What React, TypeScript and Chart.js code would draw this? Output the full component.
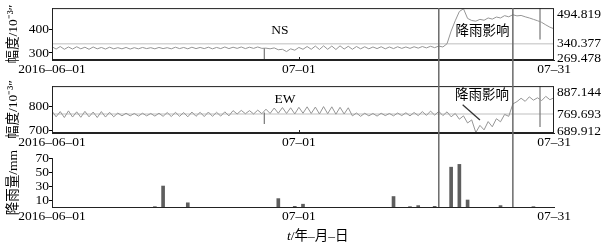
import React, { useEffect, useRef } from 'react';
import { Chart, registerables } from 'chart.js';

Chart.register(...registerables);

// ---------- data ----------
const X_TICK_DAYS = [0, 30, 61];
const X_TICK_LABELS = ['2016–06–01', '07–01', '07–31'];
const X_MAX_DAY = 61;
const SAMPLE_STEP_DAYS = 0.5;

// NS tilt amplitude, one value every 12 h from 2016-06-01
const NS_VALUES = [
  327, 317, 328, 316, 326, 317, 327, 318, 325, 316, 326, 318, 324, 317, 325, 318,
  323, 318, 324, 317, 323, 318, 324, 319, 323, 318, 324, 319, 323, 318, 325, 319,
  324, 318, 325, 319, 324, 319, 325, 318, 324, 319, 326, 319, 325, 320, 326, 319,
  325, 320, 326, 320, 321, 318, 322, 314, 316, 306, 318, 312, 324, 316, 328, 316,
  330, 315, 331, 316, 330, 315, 331, 317, 329, 316, 328, 318, 327, 318, 326, 319,
  327, 318, 326, 319, 327, 320, 326, 320, 327, 321, 328, 322, 329, 323, 330, 326,
  340, 395, 440, 480, 492, 450, 441, 438, 446, 442, 452, 447, 456, 452, 462, 457,
  466, 461, 463, 457, 452, 446, 440, 433, 422, 412, 405,
];

// EW tilt amplitude, one value every 12 h from 2016-06-01
const EW_VALUES = [
  782, 758, 780, 755, 783, 757, 779, 756, 781, 758, 778, 755, 780, 757, 777, 758,
  774, 762, 773, 762, 772, 761, 773, 762, 772, 761, 773, 760, 776, 759, 777, 760,
  776, 758, 778, 760, 777, 759, 778, 760, 777, 761, 779, 762, 784, 770, 785, 771,
  784, 770, 786, 771, 790, 772, 795, 773, 797, 772, 796, 770, 798, 773, 800, 772,
  799, 770, 801, 771, 800, 769, 798, 770, 796, 762, 774, 760, 773, 762, 772, 761,
  773, 763, 772, 762, 774, 763, 775, 762, 776, 763, 780, 764, 782, 765, 781, 763,
  779, 758, 772, 748, 762, 732, 745, 692, 722, 703, 738, 716, 750, 737, 768, 760,
  812, 822, 836, 823, 842, 828, 838, 826, 844, 830, 838,
];

// single-sample spikes (offset records)
const SPIKE_DAYS = [25.8, 59.3];
const NS_SPIKE_LOW = [272, 358];
const NS_SPIKE_HIGH = [322, 494.819];
const EW_SPIKE_LOW = [728, 715];
const EW_SPIKE_HIGH = [776, 887.144];

// min, mean, max
const NS_STATS = [269.478, 340.377, 494.819];
const EW_STATS = [689.912, 769.693, 887.144];
const NS_TICKS = [300, 400];
const EW_TICKS = [700, 800];

// daily rainfall (bar centre day, mm)
const RAIN_DAYS = [12.5, 13.5, 16.5, 27.5, 29.5, 30.5, 41.5, 43.5, 44.5, 46.5, 48.5, 49.5, 50.5, 54.5, 58.5];
const RAIN_MM = [0.5, 30, 6, 12, 1, 4, 15, 0.5, 2, 1, 57, 61, 10, 2, 0.5];
const RAIN_TICKS = [10, 30, 50, 70];
const RAIN_MAX = 70;

// rain-affected window (days)
const RAIN_WINDOW = [47, 56];

const NS_NAME = 'NS';
const EW_NAME = 'EW';
const RAIN_NOTE = '降雨影响';
const Y_TITLE_TILT = '幅度/10⁻³″';
const Y_TITLE_RAIN = '降雨量/mm';

// ---------- style ----------
const FONT = "'Liberation Serif', 'Noto Sans CJK SC', serif";
const FS = 13.5;
const W = 613;
const LINE_COLOR = '#959595';
const MEAN_COLOR = '#d4d4d4';
const WIN_COLOR = '#6a6a6a';

const series = (vals: number[]) => vals.map((v, i) => ({ x: i * SAMPLE_STEP_DAYS, y: v }));

const lineDs = (data: any[], color = LINE_COLOR, width = 1) => ({
  data,
  borderColor: color,
  borderWidth: width,
  pointRadius: 0,
  tension: 0,
  fill: false,
});

const spikeDatasets = (lows: number[], highs: number[]) =>
  SPIKE_DAYS.map((d, i) => lineDs([{ x: d, y: lows[i] }, { x: d, y: highs[i] }], '#777', 1.2));

const xScale = (h: number) => ({
  type: 'linear',
  min: 0,
  max: X_MAX_DAY,
  afterBuildTicks: (s: any) => {
    s.ticks = X_TICK_DAYS.map((v) => ({ value: v }));
  },
  afterFit: (s: any) => {
    s.height = h;
  },
  ticks: {
    autoSkip: false,
    maxRotation: 0,
    minRotation: 0,
    padding: 1,
    color: '#000',
    font: { family: FONT, size: FS },
    callback: (_v: any, i: number) => X_TICK_LABELS[i],
  },
  grid: { display: true, drawOnChartArea: false, drawTicks: false, color: '#000' },
  border: { display: true, color: '#222', width: 1 },
});

const yScale = (min: number, max: number, ticks: number[], title: string) => ({
  type: 'linear',
  position: 'left',
  min,
  max,
  afterBuildTicks: (s: any) => {
    s.ticks = ticks.map((v) => ({ value: v }));
  },
  afterFit: (s: any) => {
    s.width = 52;
  },
  ticks: {
    autoSkip: false,
    padding: 0,
    color: '#000',
    font: { family: FONT, size: FS },
    callback: (v: any) => String(Math.round(Number(v))),
  },
  grid: { display: true, drawOnChartArea: false, drawTicks: true, tickLength: 3, color: '#000' },
  border: { display: true, color: '#222', width: 1 },
  title: {
    display: true,
    text: title,
    color: '#000',
    font: { family: FONT, size: 13.5 },
    padding: { top: 5, bottom: 0 },
  },
});

const boxPlugin = {
  id: 'box',
  afterDatasetsDraw(chart: any) {
    const { ctx, chartArea: a } = chart;
    ctx.save();
    ctx.strokeStyle = '#222';
    ctx.lineWidth = 1;
    ctx.strokeRect(a.left + 0.5, a.top + 0.5, a.right - a.left - 1, a.bottom - a.top - 1);
    const x = chart.scales.x;
    X_TICK_DAYS.slice(1, 2).forEach((d) => {
      const px = Math.round(x.getPixelForValue(d)) + 0.5;
      ctx.beginPath();
      ctx.moveTo(px, a.bottom);
      ctx.lineTo(px, a.bottom - 3);
      ctx.stroke();
    });
    ctx.restore();
  },
};

const windowPlugin = (fromTop: boolean, toBottom: boolean) => ({
  id: 'rainWindow',
  afterDraw(chart: any) {
    const { ctx, chartArea: a, height } = chart;
    const x = chart.scales.x;
    const y0 = fromTop ? a.top : 0;
    const y1 = toBottom ? a.bottom : height;
    ctx.save();
    ctx.strokeStyle = WIN_COLOR;
    ctx.lineWidth = 1.5;
    RAIN_WINDOW.forEach((d) => {
      const px = x.getPixelForValue(d);
      ctx.beginPath();
      ctx.moveTo(px, y0);
      ctx.lineTo(px, y1);
      ctx.stroke();
    });
    ctx.restore();
  },
});

const rightLabels = (stats: number[]) => ({
  id: 'rightLabels',
  afterDraw(chart: any) {
    const { ctx, chartArea: a } = chart;
    const y = chart.scales.y;
    ctx.save();
    ctx.fillStyle = '#000';
    ctx.font = `${FS}px ${FONT}`;
    ctx.textAlign = 'left';
    ctx.textBaseline = 'middle';
    stats.forEach((v) => {
      let py = y.getPixelForValue(v);
      py = Math.min(Math.max(py, a.top + 6), a.bottom - 2);
      ctx.fillText(v.toFixed(3), a.right + 3, py);
    });
    ctx.restore();
  },
});

type Note = { text: string; day: number; value: number; line?: number[] };
const notesPlugin = (notes: Note[]) => ({
  id: 'notes',
  afterDraw(chart: any) {
    const { ctx } = chart;
    const x = chart.scales.x;
    const y = chart.scales.y;
    ctx.save();
    ctx.fillStyle = '#000';
    ctx.strokeStyle = '#333';
    ctx.lineWidth = 1.3;
    ctx.textAlign = 'center';
    ctx.textBaseline = 'middle';
    notes.forEach((n) => {
      ctx.font = `${FS}px ${FONT}`;
      ctx.fillText(n.text, x.getPixelForValue(n.day), y.getPixelForValue(n.value));
      if (n.line) {
        ctx.beginPath();
        ctx.moveTo(x.getPixelForValue(n.line[0]), y.getPixelForValue(n.line[1]));
        ctx.lineTo(x.getPixelForValue(n.line[2]), y.getPixelForValue(n.line[3]));
        ctx.stroke();
      }
    });
    ctx.restore();
  },
});

function tiltConfig(
  values: number[],
  stats: number[],
  ticks: number[],
  lows: number[],
  highs: number[],
  notes: Note[],
  padTop: number,
  xH: number
) {
  return {
    type: 'line',
    data: {
      datasets: [
        lineDs(series(values)),
        ...spikeDatasets(lows, highs),
        lineDs([{ x: 0, y: stats[1] }, { x: X_MAX_DAY, y: stats[1] }], MEAN_COLOR, 1.5),
      ],
    },
    options: {
      animation: false,
      responsive: false,
      events: [],
      layout: { padding: { top: padTop, right: 59, left: 0, bottom: 0 } },
      plugins: { legend: { display: false }, tooltip: { enabled: false } },
      scales: {
        x: xScale(xH),
        y: yScale(stats[0], stats[2], ticks, Y_TITLE_TILT),
      },
    },
    plugins: [boxPlugin, rightLabels(stats), notesPlugin(notes)],
  };
}

export default function App() {
  const r1 = useRef<HTMLCanvasElement>(null);
  const r2 = useRef<HTMLCanvasElement>(null);
  const r3 = useRef<HTMLCanvasElement>(null);

  useEffect(() => {
    const c1cfg: any = tiltConfig(
      NS_VALUES, NS_STATS, NS_TICKS, NS_SPIKE_LOW, NS_SPIKE_HIGH,
      [
        { text: NS_NAME, day: 27.7, value: 398 },
        { text: RAIN_NOTE, day: 52.3, value: 394 },
      ],
      8, 18
    );
    c1cfg.plugins.push(windowPlugin(true, false));
    const c2cfg: any = tiltConfig(
      EW_VALUES, EW_STATS, EW_TICKS, EW_SPIKE_LOW, EW_SPIKE_HIGH,
      [
        { text: EW_NAME, day: 28.3, value: 832 },
        { text: RAIN_NOTE, day: 52.25, value: 848, line: [49.9, 809, 52.0, 745] },
      ],
      5, 17
    );
    c2cfg.plugins.push(windowPlugin(false, false));

    const c3cfg: any = {
      type: 'bar',
      data: {
        datasets: [
          {
            data: RAIN_DAYS.map((d, i) => ({ x: d, y: RAIN_MM[i] })),
            backgroundColor: '#5e5e5e',
            barThickness: 3,
            borderWidth: 0,
          },
        ],
      },
      options: {
        animation: false,
        responsive: false,
        events: [],
        layout: { padding: { top: 8, right: 59, left: 0, bottom: 0 } },
        plugins: { legend: { display: false }, tooltip: { enabled: false } },
        scales: {
          x: { ...xScale(40), offset: false },
          y: yScale(0, RAIN_MAX, RAIN_TICKS, Y_TITLE_RAIN),
        },
      },
      plugins: [windowPlugin(false, true)],
    };

    const charts = [
      new Chart(r1.current as HTMLCanvasElement, c1cfg),
      new Chart(r2.current as HTMLCanvasElement, c2cfg),
      new Chart(r3.current as HTMLCanvasElement, c3cfg),
    ];
    return () => charts.forEach((c) => c.destroy());
  }, []);

  return (
    <div style={{ position: 'fixed', left: 0, top: 0, width: W, height: 247, background: '#fff' }}>
      <canvas ref={r1} width={W} height={78} style={{ position: 'absolute', left: 0, top: 0 }} />
      <canvas ref={r2} width={W} height={72} style={{ position: 'absolute', left: 0, top: 78 }} />
      <canvas ref={r3} width={W} height={97} style={{ position: 'absolute', left: 0, top: 150 }} />
      <div
        style={{
          position: 'absolute',
          left: 287,
          top: 227,
          fontFamily: FONT,
          fontSize: 13.5,
          lineHeight: '17px',
          color: '#000',
          whiteSpace: 'nowrap',
        }}
      >
        <i>t</i>/年–月–日
      </div>
    </div>
  );
}
